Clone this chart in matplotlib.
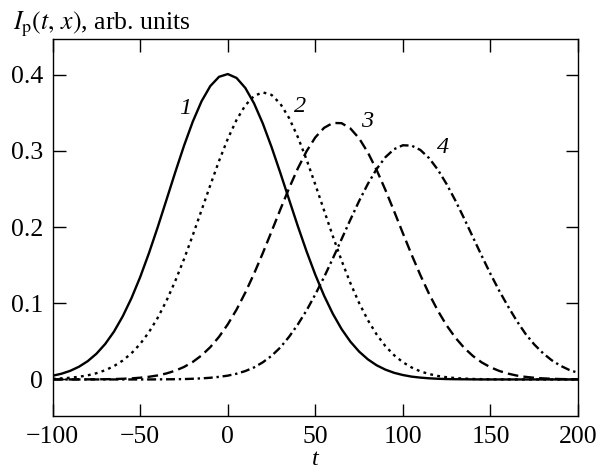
import matplotlib
matplotlib.use("Agg")
import matplotlib.pyplot as plt
from matplotlib.ticker import FuncFormatter

plt.rcParams["font.family"] = ["Liberation Serif", "DejaVu Serif"]
plt.rcParams["mathtext.fontset"] = "stix"

# sampling grid in t (every 5 units)
t = list(range(-100, 205, 5))

# pulse intensity, curves 1..4
I1 = [0.0049, 0.0075, 0.0113, 0.0167, 0.0240, 0.0338, 0.0466, 0.0628, 0.0829, 0.1068,
      0.1346, 0.1660, 0.2001, 0.2360, 0.2721, 0.3069, 0.3385, 0.3652, 0.3852, 0.3974,
      0.4010, 0.3959, 0.3828, 0.3625, 0.3361, 0.3051, 0.2713, 0.2362, 0.2013, 0.1681,
      0.1374, 0.1100, 0.0862, 0.0661, 0.0497, 0.0366, 0.0264, 0.0186, 0.0129, 0.0087,
      0.0058, 0.0037, 0.0024, 0.0015, 0.0009, 0.0005, 0.0003, 0.0002, 0.0001, 0.0,
      0.0, 0.0, 0.0, 0.0, 0.0, 0.0, 0.0, 0.0, 0.0, 0.0, 0.0]
I2 = [0.0009, 0.0014, 0.0022, 0.0035, 0.0054, 0.0082, 0.0121, 0.0175, 0.0248, 0.0344,
      0.0467, 0.0622, 0.0810, 0.1034, 0.1292, 0.1580, 0.1893, 0.2221, 0.2550, 0.2869,
      0.3160, 0.3408, 0.3599, 0.3723, 0.3770, 0.3736, 0.3621, 0.3433, 0.3183, 0.2886,
      0.2558, 0.2219, 0.1881, 0.1560, 0.1266, 0.1004, 0.0779, 0.0591, 0.0438, 0.0318,
      0.0226, 0.0157, 0.0106, 0.0071, 0.0046, 0.0029, 0.0018, 0.0011, 0.0006, 0.0004,
      0.0002, 0.0001, 0.0001, 0.0, 0.0, 0.0, 0.0, 0.0, 0.0, 0.0, 0.0]
I3 = [0.0, 0.0, 0.0, 0.0001, 0.0001, 0.0002, 0.0003, 0.0005, 0.0009, 0.0014,
      0.0023, 0.0035, 0.0053, 0.0079, 0.0115, 0.0164, 0.0230, 0.0315, 0.0424, 0.0560,
      0.0724, 0.0917, 0.1140, 0.1389, 0.1659, 0.1943, 0.2231, 0.2511, 0.2771, 0.2997,
      0.3179, 0.3304, 0.3368, 0.3365, 0.3296, 0.3166, 0.2980, 0.2751, 0.2489, 0.2208,
      0.1920, 0.1637, 0.1369, 0.1121, 0.0901, 0.0709, 0.0548, 0.0415, 0.0308, 0.0224,
      0.0160, 0.0112, 0.0077, 0.0051, 0.0034, 0.0022, 0.0014, 0.0009, 0.0005, 0.0003,
      0.0002]
I4 = [0.0, 0.0, 0.0, 0.0, 0.0, 0.0, 0.0, 0.0, 0.0, 0.0,
      0.0, 0.0, 0.0001, 0.0002, 0.0003, 0.0005, 0.0009, 0.0014, 0.0022, 0.0034,
      0.0050, 0.0075, 0.0110, 0.0158, 0.0225, 0.0310, 0.0420, 0.0560, 0.0722, 0.0907,
      0.1117, 0.1344, 0.1589, 0.1843, 0.2097, 0.2343, 0.2568, 0.2763, 0.2918, 0.3024,
      0.3075, 0.3070, 0.3013, 0.2905, 0.2753, 0.2564, 0.2348, 0.2113, 0.1868, 0.1624,
      0.1387, 0.1165, 0.0961, 0.0770, 0.0600, 0.0460, 0.0345, 0.0252, 0.0180, 0.0125,
      0.0087]

curve_labels = ["1", "2", "3", "4"]
label_pos = [(-24.6, 0.356), (41.4, 0.358), (79.4, 0.339), (122.9, 0.304)]

xticks = [-100, -50, 0, 50, 100, 150, 200]
yticks = [0, 0.1, 0.2, 0.3, 0.4]

fig = plt.figure(figsize=(6.07, 4.73), dpi=100)
ax = fig.add_axes([0.0868, 0.1205, 0.8654, 0.797])

lw = 1.7
ax.plot(t, I1, color="black", lw=lw, linestyle="-")
ax.plot(t, I2, color="black", lw=lw, linestyle=(0, (1.2, 1.8)))
ax.plot(t, I3, color="black", lw=lw, linestyle=(0, (4.5, 2.2)))
ax.plot(t, I4, color="black", lw=lw, linestyle=(0, (3.8, 1.6, 1.0, 1.6)))

for s, (xp, yp) in zip(curve_labels, label_pos):
    ax.text(xp, yp, s, fontsize=17.5, style="italic", ha="center", va="center")

ax.set_xlim(-100, 200)
ax.set_ylim(-0.048, 0.447)
ax.set_xticks(xticks)
ax.set_yticks(yticks)
ax.yaxis.set_major_formatter(FuncFormatter(lambda v, _: "0" if abs(v) < 1e-9 else f"{v:.1f}"))
ax.tick_params(direction="in", length=9, width=1.0, labelsize=18.5,
               top=True, right=True, pad=7)
for sp in ax.spines.values():
    sp.set_linewidth(1.0)

fig.text(13 / 607, 1 - 29 / 473, r"$I_{\rm p}(t,\,x)$, arb. units", fontsize=18.5,
         ha="left", va="baseline")
fig.text(315 / 607, 1 - 465 / 473, "t", fontsize=17.5, style="italic",
         ha="center", va="baseline")

fig.savefig("out.png", dpi=100)
